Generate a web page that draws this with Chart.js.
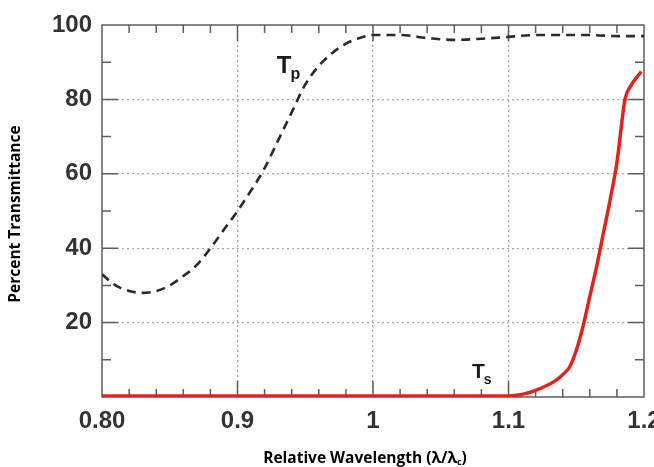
<!DOCTYPE html>
<html>
<head>
<meta charset="utf-8">
<script src="https://cdn.jsdelivr.net/npm/chart.js@4.4.1/dist/chart.umd.min.js"></script>
<style>
    html, body { margin: 0; padding: 0; background: #fff; }
    #wrap { width: 654px; height: 467px; }
</style>
</head>
<body>
<div id="wrap"><canvas id="chart"></canvas></div>
<script>
// Tp (p-polarisert), stiplet kurve
const tpX = [0.80, 0.81, 0.82, 0.83, 0.84, 0.85, 0.86, 0.87, 0.88, 0.89, 0.90, 0.91, 0.92, 0.93, 0.94, 0.95, 0.96, 0.97, 0.98, 0.99, 1.00, 1.02, 1.04, 1.06, 1.08, 1.10, 1.12, 1.14, 1.16, 1.18, 1.20];
const tpY = [33, 30, 28.5, 28, 28.5, 30, 32.5, 35.5, 40, 45, 50, 55.5, 61.5, 69, 76.5, 84, 89, 92.5, 95, 96.5, 97.3, 97.3, 96.5, 96, 96.3, 96.8, 97.3, 97.3, 97.3, 97, 97];

// Ts (s-polarisert), rød kurve
const tsX = [0.80, 1.10, 1.11, 1.12, 1.133, 1.14, 1.145, 1.15, 1.155, 1.16, 1.165, 1.17, 1.175, 1.18, 1.186, 1.19, 1.198];
const tsY = [0.3, 0.3, 0.7, 1.8, 4, 6, 8, 12.5, 19, 27, 35, 44, 53, 63, 80, 83.5, 87.5];

// Aksetekster
const xTickLabels = ['0.80', '0.9', '1', '1.1', '1.2'];
const yTickLabels = ['', '20', '40', '60', '80', '100'];

// Kurvenavn (verdi-koordinater)
const curveLabels = [
    { main: 'T', sub: 'p', x: 0.929, y: 87, size: 24 },
    { main: 'T', sub: 's', x: 1.073, y: 5, size: 21 }
];

const tickFont = { family: '"Liberation Sans", Arial, sans-serif', size: 24, weight: 'bold' };

// Ramme, innovervendte tikkmerker og aksetitler
const framePlugin = {
    id: 'frame',
    beforeDatasetsDraw(chart) {
        const { ctx, chartArea: a, scales: { x, y } } = chart;
        ctx.save();
        ctx.strokeStyle = '#5e5e5e';
        ctx.lineWidth = 1.5;
        ctx.strokeRect(a.left, a.top, a.right - a.left, a.bottom - a.top);

        ctx.beginPath();
        for (let i = 1; i < 20; i++) {
            const px = x.getPixelForValue(0.8 + i * 0.02);
            const len = i % 5 === 0 ? 16 : 8;
            ctx.moveTo(px, a.bottom);
            ctx.lineTo(px, a.bottom - len);
            ctx.moveTo(px, a.top);
            ctx.lineTo(px, a.top + len);
        }
        for (let i = 1; i < 10; i++) {
            const py = y.getPixelForValue(i * 10);
            const len = i % 2 === 0 ? 16 : 9;
            ctx.moveTo(a.left, py);
            ctx.lineTo(a.left + len, py);
            ctx.moveTo(a.right, py);
            ctx.lineTo(a.right - len, py);
        }
        ctx.stroke();
        ctx.restore();
    },
    afterDatasetsDraw(chart) {
        const { ctx, chartArea: a, scales: { x, y } } = chart;
        ctx.save();
        ctx.fillStyle = '#1a1a1a';
        ctx.textBaseline = 'alphabetic';
        curveLabels.forEach(l => {
            const px = x.getPixelForValue(l.x);
            const py = y.getPixelForValue(l.y);
            ctx.font = `bold ${l.size}px "Liberation Sans", Arial, sans-serif`;
            ctx.textAlign = 'left';
            ctx.fillText(l.main, px, py);
            const w = ctx.measureText(l.main).width;
            ctx.font = `bold ${Math.round(l.size * 0.68)}px "Liberation Sans", Arial, sans-serif`;
            ctx.fillText(l.sub, px + w - 1, py + 6);
        });

        // Aksetitler
        ctx.fillStyle = '#000';
        const titleFont = 'bold 15.5px "Open Sans", sans-serif';
        const subFont = 'bold 9px "Open Sans", sans-serif';

        ctx.save();
        ctx.translate(16, (a.top + a.bottom) / 2 + 3);
        ctx.rotate(-Math.PI / 2);
        ctx.font = titleFont;
        ctx.textAlign = 'center';
        ctx.textBaseline = 'middle';
        ctx.fillText('Percent Transmittance', 0, 0);
        ctx.restore();

        const part1 = 'Relative Wavelength (λ/λ';
        const part2 = 'c';
        const part3 = ')';
        ctx.font = titleFont;
        const w1 = ctx.measureText(part1).width;
        const w3 = ctx.measureText(part3).width;
        ctx.font = subFont;
        const w2 = ctx.measureText(part2).width;
        const cx = (a.left + a.right) / 2 - 8;
        let tx = cx - (w1 + w2 + w3) / 2;
        const ty = 463;
        ctx.textAlign = 'left';
        ctx.textBaseline = 'alphabetic';
        ctx.font = titleFont;
        ctx.fillText(part1, tx, ty);
        tx += w1;
        ctx.font = subFont;
        ctx.fillText(part2, tx, ty + 2);
        tx += w2;
        ctx.font = titleFont;
        ctx.fillText(part3, tx, ty);
        ctx.restore();
    }
};

const ctx = document.getElementById('chart').getContext('2d');
new Chart(ctx, {
    type: 'line',
    data: {
        datasets: [
            {
                label: 'Tp',
                data: tpX.map((v, i) => ({ x: v, y: tpY[i] })),
                borderColor: '#2b2b2b',
                borderWidth: 2.6,
                borderDash: [9, 6],
                pointRadius: 0,
                cubicInterpolationMode: 'monotone',
                fill: false
            },
            {
                label: 'Ts',
                data: tsX.map((v, i) => ({ x: v, y: tsY[i] })),
                borderColor: '#e0231c',
                borderWidth: 3.5,
                pointRadius: 0,
                cubicInterpolationMode: 'monotone',
                fill: false
            }
        ]
    },
    options: {
        responsive: true,
        maintainAspectRatio: false,
        animation: false,
        layout: {
            padding: { top: 25, right: 10, left: 0, bottom: 0 }
        },
        plugins: {
            legend: { display: false },
            tooltip: { enabled: false }
        },
        scales: {
            x: {
                type: 'linear',
                min: 0.8,
                max: 1.2,
                afterFit: scale => {
                    scale.height = 70;
                    scale.paddingLeft = 0;
                    scale.paddingRight = 0;
                },
                ticks: {
                    stepSize: 0.1,
                    maxRotation: 0,
                    padding: 10,
                    color: '#333',
                    font: tickFont,
                    callback: (value, index) => xTickLabels[index]
                },
                grid: {
                    drawTicks: false,
                    lineWidth: 1.3,
                    color: c => (c.index === 0 || c.index === xTickLabels.length - 1) ? 'rgba(0,0,0,0)' : '#a8a8a8'
                },
                border: { display: false, dash: [2, 3] }
            },
            y: {
                min: 0,
                max: 100,
                afterFit: scale => {
                    scale.width = 102;
                    scale.paddingTop = 0;
                    scale.paddingBottom = 0;
                },
                ticks: {
                    stepSize: 20,
                    padding: 10,
                    color: '#333',
                    font: tickFont,
                    callback: (value, index) => yTickLabels[index]
                },
                grid: {
                    drawTicks: false,
                    lineWidth: 1.3,
                    color: c => (c.index === 0 || c.index === yTickLabels.length - 1) ? 'rgba(0,0,0,0)' : '#a8a8a8'
                },
                border: { display: false, dash: [2, 3] }
            }
        }
    },
    plugins: [framePlugin]
});
</script>
</body>
</html>
